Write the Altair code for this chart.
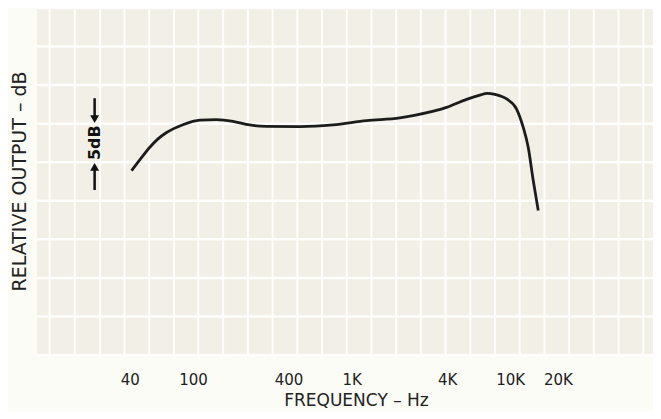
import altair as alt
import pandas as pd

# Frequency response curve
freq_hz = [41, 47, 53.5, 60, 68.2, 86.4, 110.5, 140.9, 178.4, 228, 291, 472, 763, 1243,
           2015, 2434, 3970, 5310, 6441, 7130, 8000, 9490, 10965, 12075, 12980, 13960, 15010]
level_db = [-11.1, -9.5, -8.06, -7.0, -6.15, -5.14, -4.55, -4.48, -4.70, -5.17, -5.35,
            -5.39, -5.17, -4.61, -4.26, -3.96, -2.89, -1.85, -1.30, -1.08, -1.20, -1.80,
            -3.10, -5.48, -8.06, -12.37, -16.25]

tick_values = [40, 100, 400, 1000, 4000, 10000, 20000]
tick_labels = ["40", "100", "400", "1K", "4K", "10K", "20K"]

# chart-paper grid (uniformly ruled paper under a log axis)
paper_grid_hz = [12.5, 18, 26, 37, 53, 76, 108, 155, 222, 318, 455, 651, 932, 1334,
                 1909, 2733, 3912, 5600, 8015, 11473, 16422, 23506, 33646, 48160, 68935]
db_grid = [-35, -30, -25, -20, -15, -10, -5, 0, 5, 10]

# "5 dB" scale marker
marker_hz = 24
marker_text_db = -7.46
marker_top_stem = [-1.7, -4.2]
marker_bot_stem = [-10.6, -13.6]
marker_top_head = -4.4
marker_bot_head = -10.6

x_scale = alt.Scale(type="log", domain=[10.4, 79400], nice=False)
y_scale = alt.Scale(domain=[-35, 10], nice=False)

label_map = "{" + ",".join(f"'{v}':'{l}'" for v, l in zip(tick_values, tick_labels)) + "}"

x_axis = alt.Axis(
    values=tick_values, labelExpr=f"{label_map}[datum.value]",
    title="FREQUENCY – Hz", grid=False, ticks=False, domain=False,
    labelFont="DejaVu Sans", labelFontSize=15, labelColor="#222",
    labelPadding=24, labelBaseline="middle",
    titleFont="DejaVu Sans", titleFontSize=17, titleFontWeight="normal",
    titleColor="#222", titleX=319, titleY=45, titleBaseline="middle",
    titleAlign="center", titleAnchor="start")
y_axis = alt.Axis(
    title="RELATIVE OUTPUT – dB", labels=False, ticks=False, domain=False,
    grid=False, titleFont="DejaVu Sans", titleFontSize=19,
    titleFontWeight="normal", titleColor="#222", titleAngle=270,
    titleX=-18, titleY=173, titleBaseline="middle", titleAlign="center",
    titleAnchor="start")

X = lambda field: alt.X(field, scale=x_scale, axis=x_axis)
Y = lambda field: alt.Y(field, scale=y_scale, axis=y_axis)

curve_df = pd.DataFrame({"f": freq_hz, "db": level_db})

grid_v = alt.Chart(pd.DataFrame({"f": paper_grid_hz})).mark_rule(
    color="white", strokeWidth=2, opacity=0.9
).encode(x=X("f:Q"))

grid_h = alt.Chart(pd.DataFrame({"db": db_grid})).mark_rule(
    color="white", strokeWidth=2.5, opacity=0.9
).encode(y=Y("db:Q"))

curve = alt.Chart(curve_df).mark_line(
    color="#1c1c1c", strokeWidth=2.8, interpolate="monotone"
).encode(x=X("f:Q"), y=Y("db:Q"))

stems = alt.Chart(pd.DataFrame({
    "f": [marker_hz, marker_hz],
    "y1": [marker_top_stem[0], marker_bot_stem[0]],
    "y2": [marker_top_stem[1], marker_bot_stem[1]],
})).mark_rule(color="#111", strokeWidth=2.5).encode(
    x=X("f:Q"), y=Y("y1:Q"), y2="y2:Q")

heads = alt.Chart(pd.DataFrame({
    "f": [marker_hz, marker_hz],
    "db": [marker_top_head, marker_bot_head],
    "shape": ["triangle-down", "triangle-up"],
})).mark_point(filled=True, color="#111", size=80, opacity=1).encode(
    x=X("f:Q"), y=Y("db:Q"),
    shape=alt.Shape("shape:N", scale=None))

marker_label = alt.Chart(pd.DataFrame({"f": [marker_hz], "db": [marker_text_db], "t": ["5dB"]})).mark_text(
    angle=270, font="DejaVu Sans", fontSize=16, fontWeight="bold", color="#111",
    baseline="middle", align="center"
).encode(x=X("f:Q"), y=Y("db:Q"), text="t:N")

chart = alt.layer(grid_v, grid_h, curve, stems, heads, marker_label).properties(
    width=616, height=347,
    autosize=alt.AutoSizeParams(type="none"),
    padding={"left": 29, "top": 0, "right": 0, "bottom": 56},
).configure(background="#fcfcf7").configure_view(fill="#f2efe6", stroke=None)

chart.save("out.html", embed_options={"renderer": "svg", "actions": False})
